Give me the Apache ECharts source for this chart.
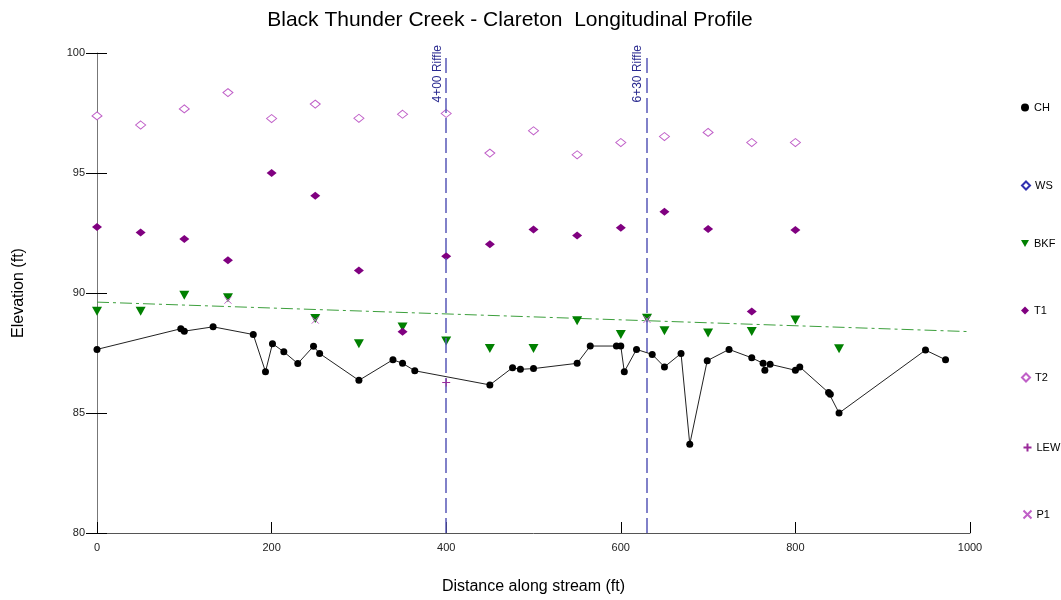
<!DOCTYPE html>
<html>
<head>
<meta charset="utf-8">
<script src="https://cdn.jsdelivr.net/npm/echarts@6/dist/echarts.min.js"></script>
<style>html,body{margin:0;padding:0;background:#fff;}#c{width:1061px;height:600px;}</style>
</head>
<body>
<div id="c"></div>
<script>
var chX = [0,96,100,133,179,193,201,214,230,248,255,300,339,350,364,450,476,485,500,550,565,595,600,604,618,636,650,669,679,699,724,750,763,765,771,800,805,838,840,850,949,972];
var chY = [87.65,88.51,88.41,88.59,88.27,86.72,87.89,87.55,87.06,87.78,87.48,86.36,87.22,87.07,86.76,86.17,86.89,86.82,86.85,87.07,87.79,87.79,87.79,86.72,87.65,87.44,86.92,87.48,83.70,87.18,87.65,87.30,87.07,86.78,87.03,86.78,86.92,85.85,85.78,85.00,87.62,87.22];
var wsX = [];
var wsY = [];
var bkfX = [0,50,100,150,250,300,350,400,450,500,550,600,630,650,700,750,800,850];
var bkfY = [89.24,89.24,89.91,89.80,88.94,87.89,88.58,88.00,87.69,87.69,88.84,88.27,88.95,88.43,88.33,88.40,88.87,87.68];
var t1X = [0,50,100,150,200,250,300,350,400,450,500,550,600,650,700,750,800];
var t1Y = [92.75,92.52,92.25,91.36,95.00,94.05,90.94,88.39,91.53,92.03,92.65,92.40,92.72,93.39,92.67,89.23,92.63];
var t2X = [0,50,100,150,200,250,300,350,400,450,500,550,600,650,700,750,800];
var t2Y = [97.38,97.00,97.67,98.35,97.27,97.87,97.28,97.45,97.48,95.83,96.76,95.76,96.27,96.52,96.69,96.27,96.27];
var lewX = [400];
var lewY = [86.27];
var p1X = [150,250,630];
var p1Y = [89.70,88.87,88.90];
var trendX = [0,1000];
var trendY = [89.62,88.39];
var riffleX = [400,630];
var riffleLabels = ['4+00 Riffle','6+30 Riffle'];
var xTicks = [0,200,400,600,800,1000];
var yTicks = [80,85,90,95,100];
var legendNames = ['CH','WS','BKF','T1','T2','LEW','P1'];

function pairs(xs, ys){ return xs.map(function(x,i){ return [x, ys[i]]; }); }

var triDown = 'path://M0,0L10,0L5,9Z';
var plus = 'path://M0,5L10,5M5,0L5,10';
var cross = 'path://M0,0L10,10M10,0L0,10';
var FONT = 'Liberation Sans, Arial';

var chart = echarts.init(document.getElementById('c'), null, {renderer:'canvas'});
var legendTops = [97, 175, 233, 300, 367, 436, 503];
var legendIcons = ['circle','diamond',triDown,'diamond','diamond',plus,cross];
var legends = legendNames.map(function(n,i){
  return {
    data:[{name:n, icon:legendIcons[i]}],
    left:1021, top:legendTops[i], orient:'vertical',
    itemWidth:8, itemHeight:8, itemGap:4, padding:[5,0,5,0],
    textStyle:{fontFamily:FONT, fontSize:11, color:'#000'},
    selectedMode:false
  };
});

var gridRect = {left:97, right:91, top:53, bottom:67, containLabel:false};

var option = {
  backgroundColor:'#fff',
  animation:false,
  title:{
    text:'Black Thunder Creek - Clareton  Longitudinal Profile',
    left:505, textAlign:'center', top:5,
    textStyle:{fontFamily:FONT, fontSize:21, fontWeight:'normal', color:'#000'}
  },
  legend: legends,
  grid:[gridRect, Object.assign({}, gridRect)],
  xAxis:[{
    gridIndex:0,
    type:'value', min:xTicks[0], max:xTicks[xTicks.length-1], interval:xTicks[1]-xTicks[0],
    name:'Distance along stream (ft)', nameLocation:'middle', nameGap:46,
    nameTextStyle:{fontFamily:FONT, fontSize:16, color:'#000'},
    axisLine:{lineStyle:{color:'#555', width:1}},
    axisTick:{inside:true, length:11, lineStyle:{color:'#000'}},
    axisLabel:{fontFamily:FONT, fontSize:11, color:'#222', margin:9, formatter:function(v){ return String(v); }},
    splitLine:{show:false}
  },{
    gridIndex:1, show:false,
    type:'value', min:xTicks[0], max:xTicks[xTicks.length-1]
  }],
  yAxis:[{
    gridIndex:0,
    type:'value', min:yTicks[0], max:yTicks[yTicks.length-1], interval:yTicks[1]-yTicks[0],
    offset:-10,
    name:'Elevation (ft)', nameLocation:'middle', nameGap:80,
    nameTextStyle:{fontFamily:FONT, fontSize:16, color:'#000'},
    axisLine:{show:false},
    axisTick:{show:true, length:21, lineStyle:{color:'#000'}},
    axisLabel:{fontFamily:FONT, fontSize:11, color:'#222', margin:22},
    splitLine:{show:false}
  },{
    gridIndex:1,
    type:'value', min:yTicks[0], max:yTicks[yTicks.length-1], interval:yTicks[1]-yTicks[0],
    axisLine:{show:true, lineStyle:{color:'#777', width:1}},
    axisTick:{show:false},
    axisLabel:{show:false},
    splitLine:{show:false}
  }],
  series:[
    {
      name:'trend', type:'line', data:pairs(trendX,trendY), symbol:'none', silent:true,
      lineStyle:{color:'#3c9f3c', width:1, type:[12,4,3,4]}, z:1,
      markLine:{
        silent:true, symbol:'none',
        lineStyle:{color:'#5858b8', width:1.5, type:[15,5]},
        label:{show:true, position:'insideEndTop', color:'#2a2a90', fontSize:12,
               fontFamily:FONT, distance:[ -8, 3 ],
               formatter:function(p){ return riffleLabels[riffleX.indexOf(p.value)]; }},
        data: riffleX.map(function(x){ return {xAxis:x}; })
      }
    },
    {
      name:'CH', type:'line', data:pairs(chX,chY), symbol:'circle', symbolSize:7,
      itemStyle:{color:'#000'}, lineStyle:{color:'#222', width:1}, z:5
    },
    {
      name:'WS', type:'scatter', data:pairs(wsX,wsY), symbol:'diamond', symbolSize:[10,8],
      itemStyle:{color:'#fff', borderColor:'#3030b0', borderWidth:1, opacity:1}
    },
    {
      name:'BKF', type:'scatter', data:pairs(bkfX,bkfY), symbol:triDown, symbolSize:[10,9],
      itemStyle:{color:'#008000', opacity:1}, z:3
    },
    {
      name:'T1', type:'scatter', data:pairs(t1X,t1Y), symbol:'diamond', symbolSize:[10,8],
      itemStyle:{color:'#800080', opacity:1}, z:4
    },
    {
      name:'T2', type:'scatter', data:pairs(t2X,t2Y), symbol:'diamond', symbolSize:[10,8],
      itemStyle:{color:'#fff', borderColor:'#c060c8', borderWidth:1, opacity:1}
    },
    {
      name:'LEW', type:'scatter', data:pairs(lewX,lewY), symbol:plus, symbolSize:8,
      itemStyle:{color:'none', borderColor:'#9a2a9a', borderWidth:1, opacity:1}, z:6
    },
    {
      name:'P1', type:'scatter', data:pairs(p1X,p1Y), symbol:cross, symbolSize:7,
      itemStyle:{color:'none', borderColor:'#c060c8', borderWidth:1, opacity:1}, z:6
    }
  ]
};
chart.setOption(option);
</script>
</body>
</html>
